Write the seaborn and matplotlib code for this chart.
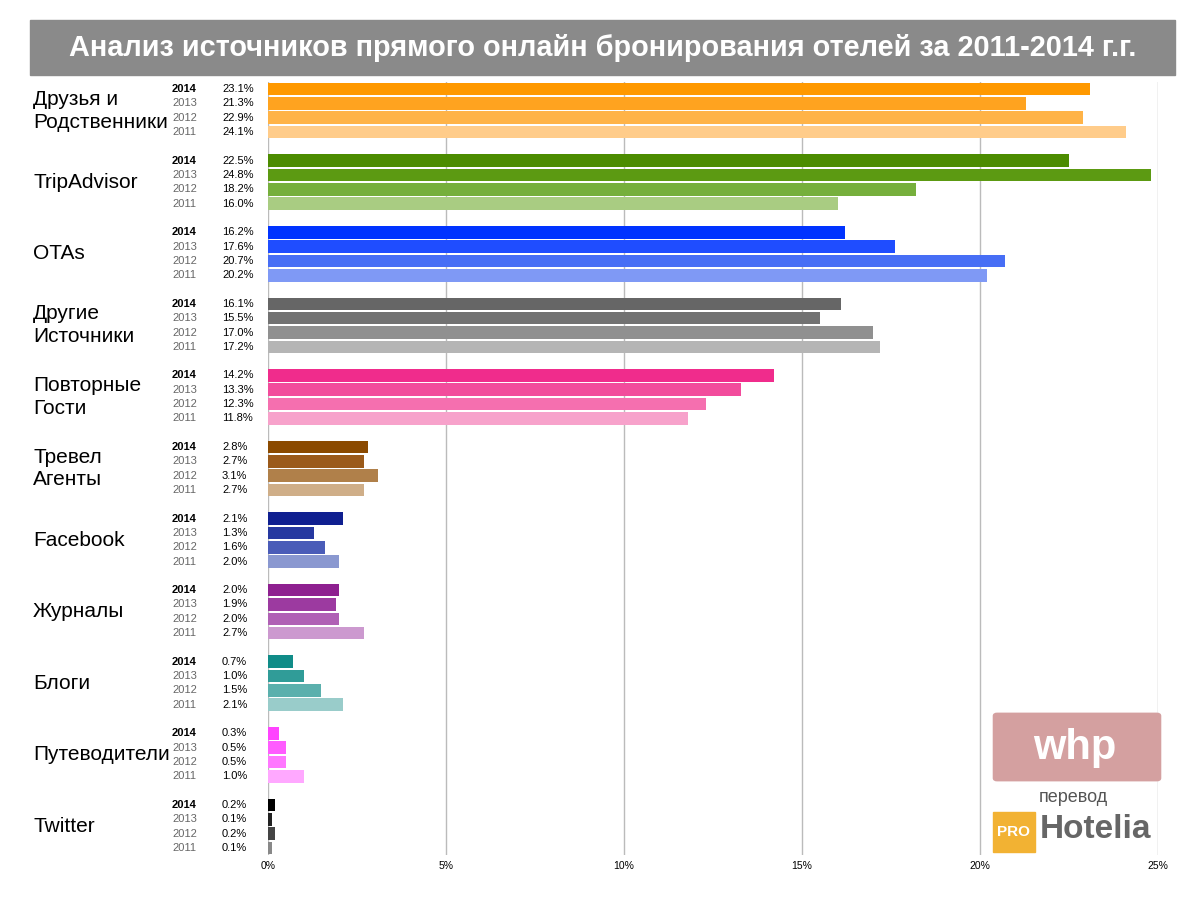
import matplotlib
matplotlib.use("Agg")
import matplotlib.pyplot as plt
import matplotlib.transforms as mt
import seaborn as sns
import pandas as pd
from matplotlib.patches import FancyBboxPatch, Rectangle

plt.rcParams["font.family"] = "Liberation Sans"

categories = ["Друзья и\nРодственники", "TripAdvisor", "OTAs", "Другие\nИсточники",
              "Повторные\nГости", "Тревел\nАгенты", "Facebook", "Журналы", "Блоги",
              "Путеводители", "Twitter"]
years = ["2014", "2013", "2012", "2011"]
values = [
    [23.1, 21.3, 22.9, 24.1],
    [22.5, 24.8, 18.2, 16.0],
    [16.2, 17.6, 20.7, 20.2],
    [16.1, 15.5, 17.0, 17.2],
    [14.2, 13.3, 12.3, 11.8],
    [2.8, 2.7, 3.1, 2.7],
    [2.1, 1.3, 1.6, 2.0],
    [2.0, 1.9, 2.0, 2.7],
    [0.7, 1.0, 1.5, 2.1],
    [0.3, 0.5, 0.5, 1.0],
    [0.2, 0.1, 0.2, 0.1],
]
colors = [
    ["#FF9900", "#FFA31F", "#FFB347", "#FFCC8A"],
    ["#4C8C00", "#5C9A12", "#76AF3C", "#A9CC82"],
    ["#0033FF", "#1F4DFF", "#476EF5", "#7F99F5"],
    ["#666666", "#727272", "#909090", "#B5B5B5"],
    ["#F02C8C", "#F24C9C", "#F56FAF", "#F7A2CB"],
    ["#8B4A00", "#9B5A1A", "#B0804A", "#CFAE88"],
    ["#0F1F90", "#2638A0", "#4A5CB8", "#8A98D0"],
    ["#8E2090", "#9C3AA0", "#B060B5", "#CC99CF"],
    ["#108C88", "#309C98", "#5BB0AD", "#99CCCA"],
    ["#FF44FF", "#FF5CFF", "#FF77FF", "#FFA8FF"],
    ["#000000", "#222222", "#444444", "#888888"],
]

rows, order, pal = [], [], {}
for ci, c in enumerate(categories):
    for yi, y in enumerate(years):
        key = f"{ci}_{y}"
        rows.append({"key": key, "val": values[ci][yi]})
        order.append(key)
        pal[key] = colors[ci][yi]
    if ci < len(categories) - 1:
        order.append(f"gap{ci}")
df = pd.DataFrame(rows)

fig = plt.figure(figsize=(12, 8.99), dpi=100)
H = 899
ax = fig.add_axes([268/1200, 1-855/H, (1158-268)/1200, (855-82)/H])
sns.barplot(data=df, x="val", y="key", hue="key", order=order, hue_order=list(pal.keys()),
            palette=pal, legend=False, width=0.88, dodge=False, saturation=1,
            ax=ax, orient="h")
ax.set_xlim(0, 25)
ax.set_ylim(len(order)-0.5, -0.5)
ax.set_xticks([0, 5, 10, 15, 20, 25])
ax.set_xticklabels(["0%", "5%", "10%", "15%", "20%", "25%"], fontsize=7.5)
ax.set_yticks([])
ax.set_xlabel(""); ax.set_ylabel("")
for s in ax.spines.values():
    s.set_visible(False)
ax.tick_params(axis="x", length=0, pad=4)
ax.grid(axis="x", color="#BBBBBB", linewidth=1)
ax.set_axisbelow(True)

ftr = mt.blended_transform_factory(fig.transFigure, ax.transData)
for ci, c in enumerate(categories):
    base = ci * 5
    ax.text(33/1200, base + 1.5, c, transform=ftr, fontsize=15, va="center", ha="left",
            linespacing=1.25)
    for yi, y in enumerate(years):
        pos = base + yi
        col = "black" if yi == 0 else "#666666"
        ax.text(172/1200, pos, y, transform=ftr, fontsize=8, va="center",
                fontweight="bold" if yi == 0 else "normal", color=col)
        ax.text(222/1200, pos, f"{values[ci][yi]:.1f}%", transform=ftr, fontsize=8,
                va="center", color="black")

fig.patches.append(Rectangle((30/1200, 1-75/H), 1145/1200, 55/H, transform=fig.transFigure,
                             color="#8A8A8A", zorder=0))
fig.text(603/1200, 1-48/H, "Анализ источников прямого онлайн бронирования отелей за 2011-2014 г.г.",
         ha="center", va="center", fontsize=20.8, fontweight="bold", color="white")

fig.patches.append(FancyBboxPatch((997/1200, 1-778/H), 160/1200, 62/H, transform=fig.transFigure,
                                  boxstyle="round,pad=0.003", color="#D4A0A0", zorder=5))
fig.text(1075/1200, 1-748/H, "whp", ha="center", va="center", fontsize=30, color="white",
         fontweight="bold", zorder=6)
fig.text(1073/1200, 1-797/H, "перевод", ha="center", va="center", fontsize=13, color="#555555")
fig.patches.append(Rectangle((993/1200, 1-852/H), 42/1200, 40/H, transform=fig.transFigure,
                             color="#F2B233", zorder=5))
fig.text(1014/1200, 1-832/H, "PRO", ha="center", va="center", fontsize=11, color="white",
         fontweight="bold", zorder=6)
fig.text(1040/1200, 1-829/H, "Hotelia", ha="left", va="center", fontsize=24, color="#666666",
         fontweight="bold")

fig.savefig("out.png", dpi=100)
